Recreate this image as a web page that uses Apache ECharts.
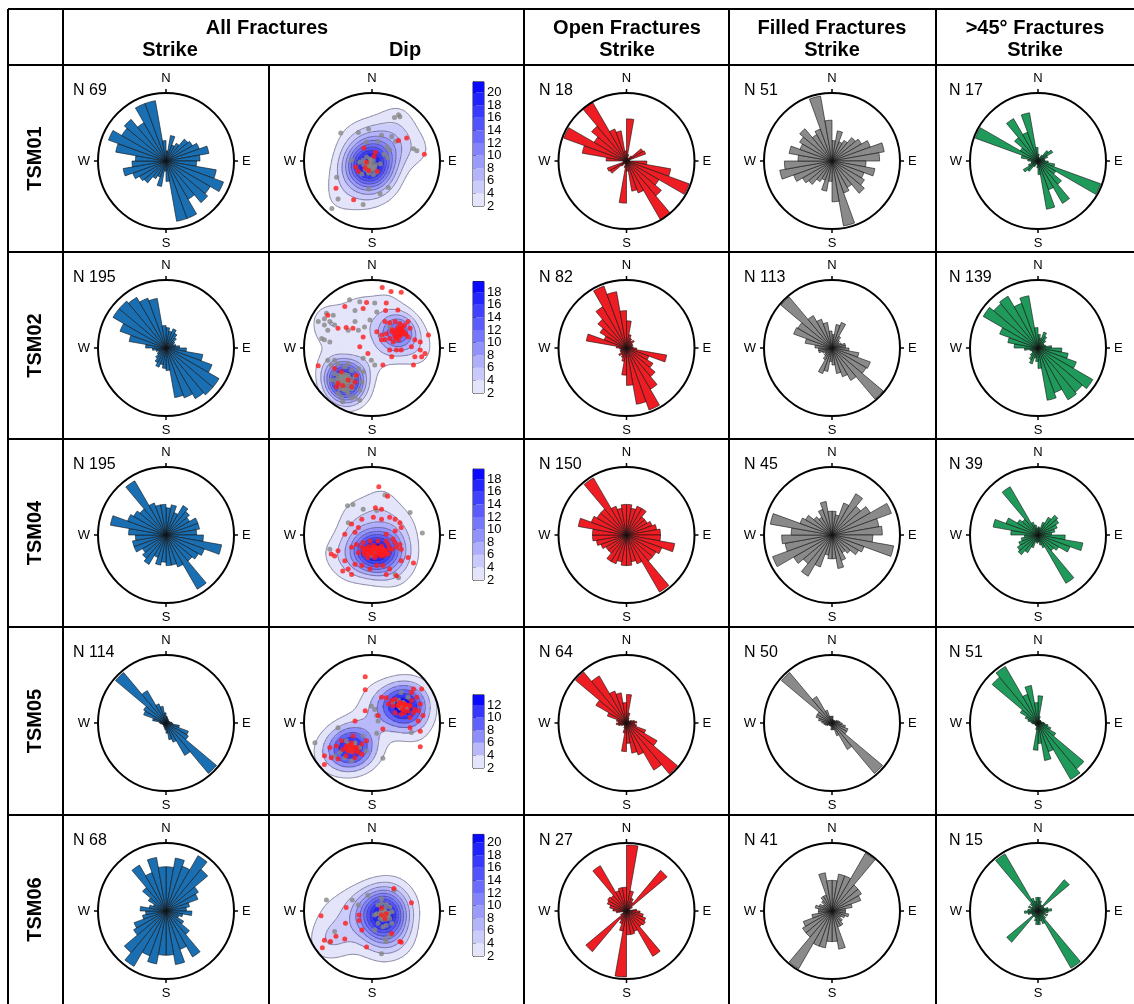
<!DOCTYPE html>
<html>
<head>
<meta charset="utf-8">
<script src="https://cdn.jsdelivr.net/npm/echarts@6/dist/echarts.min.js"></script>
<style>
html, body { margin: 0; background: #fff; }
#chart { width: 1134px; height: 1004px; }
</style>
</head>
<body>
<div id="chart"></div>
<script>
var samples = ['TSM01', 'TSM02', 'TSM04', 'TSM05', 'TSM06'];

var allN = [69, 195, 195, 114, 68];
var openN = [18, 82, 150, 64, 27];
var filledN = [51, 113, 45, 50, 41];
var steepN = [17, 139, 39, 51, 15];

// strike roses: 10 degree bins 0-10 ... 170-180 (mirrored for 180-360),
// bar length as a fraction of the circle radius
var allStrike = [
    [.15, .38, .25, .3, .42, .45, .52, .64, .5, .45, .75, .9, .75, .8, .65, .9, .9, .3],
    [.3, .25, .3, .25, .2, .15, .12, .15, .2, .3, .55, .72, .9, .9, .86, .78, .74, .33],
    [.4, .45, .35, .5, .45, .4, .5, .5, .45, .55, .83, .6, .55, .5, .92, .5, .45, .45],
    [.1, .08, .06, .06, .05, .05, .05, .06, .08, .1, .2, .35, .38, .97, .55, .3, .25, .15],
    [.65, .79, .7, .94, .8, .55, .5, .35, .3, .38, .25, .2, .3, .45, .78, .6, .8, .65]
];
var openStrike = [
    [.62, .1, .05, .05, .1, .28, .3, .05, .05, .3, .66, .98, .55, .67, 1.0, .5, .45, .15],
    [.4, .2, .15, .12, .15, .1, .1, .08, .1, .15, .6, .35, .45, .55, .7, .97, .84, .55],
    [.45, .4, .45, .45, .35, .35, .4, .45, .5, .5, .72, .55, .5, .5, .97, .45, .4, .45],
    [.42, .15, .08, .05, .05, .05, .08, .12, .15, .12, .15, .3, .52, .98, .8, .5, .45, .3],
    [.97, .3, .2, .15, .78, .1, .05, .05, .15, .2, .25, .3, .32, .3, .77, .32, .35, .35]
];
var filledStrike = [
    [.3, .45, .3, .35, .45, .5, .6, .78, .7, .5, .64, .5, .55, .62, .45, .5, .97, .6],
    [.2, .35, .4, .2, .15, .12, .15, .2, .2, .25, .4, .6, .58, .98, .55, .45, .38, .25],
    [.35, .3, .5, .7, .55, .65, .93, .7, .74, .6, .92, .5, .45, .35, .3, .4, .5, .35],
    [.1, .05, .05, .05, .05, .05, .08, .1, .12, .15, .2, .25, .25, .97, .45, .2, .1, .1],
    [.45, .55, .55, .98, .5, .5, .45, .3, .2, .2, .25, .2, .15, .2, .25, .25, .57, .45]
];
var steepStrike = [
    [.1, .05, .05, .1, .2, .25, .15, .1, .1, .15, .25, .98, .3, .45, .72, .45, .72, .2],
    [.2, .15, .25, .2, .15, .1, .1, .12, .2, .35, .45, .6, .93, .85, .88, .7, .78, .3],
    [.12, .1, .2, .3, .38, .35, .3, .25, .2, .4, .67, .5, .35, .3, .82, .2, .15, .1],
    [.4, .1, .05, .05, .05, .05, .05, .05, .08, .1, .15, .2, .3, .88, .96, .45, .56, .3],
    [.2, .15, .1, .1, .6, .1, .1, .15, .2, .15, .1, .15, .1, .15, .97, .2, .15, .2]
];

// dip: top of the density colour bar
var densityMax = [21.7, 19.7, 19.6, 13.6, 21.3];

// poles on the stereonet, x east / y north, unit circle
var filledPoles = [
    [[.39, .68], [.33, .64], [.41, .65], [-.46, .41], [-.2, .42], [-.05, .47], [.14, .38], [.29, .36], [.35, .29], [.61, .18],
     [.66, .15], [-.08, .28], [.09, .29], [.22, .21], [.26, .16], [.18, .1], [.23, .05], [-.08, .06], [-.03, .03], [.02, .01],
     [-.05, -.04], [-.01, -.07], [.04, -.09], [-.1, -.12], [-.03, -.14], [.07, -.16], [.02, -.2], [-.05, -.18], [-.18, -.02],
     [-.13, .01], [-.3, .01], [-.15, -.19], [.12, -.04], [-.52, -.24], [-.5, -.56], [-.59, -.7], [-.13, -.64], [-.05, -.41],
     [.12, -.48], [.24, -.39], [-.03, -.09], [-.08, -.08], [-.01, -.02], [.03, -.12], [-.04, -.04], [-.08, -.1], [0, -.12],
     [-.12, -.06], [-.02, .02], [.05, -.05], [-.06, -.15], [-.1, -.02], [.02, -.08], [-.03, -.1]],
    [[-.7, .43], [-.62, .39], [-.57, .48], [-.7, .34], [-.65, .26], [-.79, .39], [-.55, .34], [-.67, .51], [-.74, .14], [-.7, .12],
     [-.62, .09], [-.33, .71], [-.18, .68], [.04, .66], [.07, .53], [-.25, .55], [-.35, .26], [-.25, .39], [-.2, .26], [-.11, .31],
     [-.03, .41], [.26, .31], [.39, .31], [-.65, -.18], [-.6, -.25], [-.5, -.23], [-.4, -.28], [-.3, -.33], [-.55, -.38],
     [-.45, -.4], [-.35, -.4], [-.25, -.42], [-.6, -.47], [-.47, -.47], [-.38, -.5], [-.28, -.55], [-.4, -.62], [-.5, -.67],
     [-.35, -.67], [-.25, -.72], [-.18, -.62], [-.15, -.5], [-.13, -.35], [-.2, -.3], [-.35, -.23], [-.55, -.18], [-.45, -.72],
     [-.3, -.74], [-.18, -.77], [-.43, -.79], [.04, -.25], [-.01, -.18], [-.13, -.15], [-.42, -.43], [-.38, -.45], [-.45, -.5],
     [-.4, -.52], [-.43, -.45], [-.45, -.42], [-.4, -.44], [-.36, -.46], [-.48, -.48], [-.42, -.5], [-.38, -.53], [-.33, -.5],
     [-.46, -.55], [-.41, -.57], [-.35, -.58], [-.5, -.44], [-.44, -.38], [-.39, -.39], [-.34, -.43], [-.3, -.46], [-.52, -.52],
     [-.47, -.6], [-.4, -.48], [-.43, -.53], [-.37, -.5], [-.32, -.55], [-.28, -.5], [-.45, -.46], [-.49, -.4], [-.42, -.61],
     [-.36, -.62], [-.3, -.6], [-.54, -.47], [-.38, -.41], [-.44, -.43]],
    [[-.36, .43], [-.28, .45], [-.13, .38], [.07, .36], [.56, .33], [.74, .03], [.19, .59], [-.35, .18], [-.62, -.21], [.34, -.58],
     [.39, -.63], [0, -.22], [.1, -.2], [.05, -.25], [.15, -.22], [-.05, -.28], [0, -.3]],
    [[-.5, -.07], [-.84, -.29], [.16, -.52], [.07, -.15], [.07, .11], [.04, .2], [-.01, .25], [.09, .03], [.43, .45], [.53, .38],
     [.39, .33], [.31, .3], [.41, .23], [.51, .22], [.43, .28], [.58, -.14], [-.38, -.26], [-.3, -.34], [-.25, -.29], [-.18, -.36],
     [-.35, -.31], [-.55, -.48], [-.47, -.43], [-.4, -.51], [-.3, -.56], [-.13, -.19], [-.08, -.41], [-.32, -.36], [-.28, -.38],
     [-.25, -.34], [-.35, -.4], [-.3, -.42], [-.27, -.31], [.44, .26], [.48, .24], [.4, .28], [.52, .22], [.46, .3], [.42, .22]],
    [[.09, .09], [.14, .11], [.21, .1], [.26, .06], [.29, -.01], [.24, -.06], [.16, -.09], [.12, -.11], [.07, -.04], [.14, .01],
     [.19, .04], [.26, -.11], [.09, -.18], [.16, -.23], [.21, -.21], [.29, -.18], [.19, -.41], [.21, -.45], [.26, -.36], [.14, .18],
     [.04, -.06], [-.67, .16], [-.29, .16], [-.2, .09], [-.06, .23], [.33, .31], [-.55, -.3], [-.62, -.46], [.14, -.63], [.04, -.28],
     [.17, -.04], [.2, -.02], [.15, -.08], [.22, -.07], [.18, 0], [.13, -.02], [.24, -.03], [.19, -.1], [.16, -.13], [.21, -.12],
     [.12, -.05], [.18, -.06]]
];
var openPoles = [
    [[-.12, .19], [.05, .13], [.03, .07], [-.08, -.02], [-.24, -.09], [-.1, -.1], [-.2, -.15], [-.05, -.14], [.08, -.15],
     [.39, .3], [.51, .34], [.77, .1], [-.53, -.4], [-.27, -.57]],
    [[.15, .89], [.28, .83], [.43, .82], [-.08, .67], [.21, .66], [.2, .55], [.38, .56], [-.65, .48], [-.4, .61], [-.13, .58],
     [.19, .39], [.26, .37], [.34, .39], [.41, .36], [.48, .34], [.53, .39], [.56, .29], [.43, .29], [.36, .26], [.29, .24],
     [.21, .21], [.14, .19], [.34, .16], [.41, .19], [.48, .21], [.26, .14], [.19, .12], [.53, .16], [.39, .12], [.31, .09],
     [.63, .12], [.71, .09], [.58, .02], [.71, -.03], [.78, -.08], [.63, -.13], [.73, -.13], [.83, .19], [.07, .24], [.14, .12],
     [.26, -.03], [.29, -.13], [.36, -.03], [.43, -.03], [.16, -.25], [.61, -.25], [-.5, .29], [-.38, .3], [-.28, .29],
     [-.13, .16], [-.18, .02], [-.06, -.08], [-.55, -.3], [-.45, -.35], [-.5, -.52], [-.43, -.55], [-.3, -.57], [-.25, -.5],
     [-.23, -.4], [-.35, -.47], [-.52, -.57], [-.79, -.26], [.36, .24], [.4, .22], [.44, .26], [.33, .2], [.38, .3], [.42, .18],
     [.47, .24], [.3, .27], [.35, .14], [.45, .31], [.39, .2], [.41, .27], [.5, .2], [.37, .17], [.43, .23]],
    [[.1, .71], [.23, .57], [.05, .4], [.14, .38], [-.15, .23], [.02, .26], [.14, .23], [.26, .26], [.34, .23], [.41, .18],
     [.43, .11], [.34, .06], [.21, .01], [-.25, .04], [-.4, .01], [-.3, .16], [-.2, .11], [-.15, -.18], [-.06, -.21], [.04, -.18],
     [.14, -.16], [.24, -.14], [.34, -.11], [-.11, -.28], [-.01, -.26], [.09, -.26], [.19, -.23], [.29, -.21], [.36, -.18],
     [-.2, -.26], [-.06, -.33], [.04, -.33], [.14, -.31], [.24, -.28], [-.3, -.18], [-.23, -.14], [-.13, -.11], [-.03, -.09],
     [.09, -.09], [.21, -.09], [.31, -.06], [.41, -.14], [.43, -.21], [-.5, -.23], [-.55, -.31], [-.6, -.28], [-.4, -.38],
     [-.35, -.5], [-.43, -.53], [-.25, -.43], [-.15, -.45], [-.3, -.58], [-.03, -.5], [.07, -.45], [.16, -.45], [.26, -.5],
     [.21, -.58], [.36, -.6], [.61, -.41], [.53, -.33], [.43, -.38], [-.1, -.2], [-.05, -.17], [0, -.2], [.05, -.22], [.1, -.24],
     [.15, -.26], [.2, -.24], [.25, -.2], [-.08, -.25], [-.02, -.27], [.03, -.29], [.08, -.3], [.12, -.28], [.18, -.3],
     [-.12, -.23], [.06, -.18], [.11, -.19], [.16, -.2], [0, -.24], [.09, -.26], [-.04, -.22], [.14, -.23], [.21, -.27],
     [.02, -.15], [-.07, -.3]],
    [[-.1, .68], [-.1, .49], [.14, .38], [.21, .37], [.29, .33], [.34, .35], [.41, .3], [.48, .28], [.56, .25], [.63, .2],
     [.68, .18], [.61, .15], [.53, .18], [.46, .2], [.39, .25], [.31, .25], [.24, .28], [.58, .33], [.66, .38], [.71, .28],
     [.75, .11], [.68, .03], [.56, .08], [.48, .15], [.58, .45], [.73, .5], [.61, .5], [.34, .15], [.43, .13], [.56, -.07],
     [.71, -.12], [.71, -.35], [-.1, .18], [.09, .11], [.16, -.09], [-.25, .03], [-.45, -.26], [-.38, -.34], [-.3, -.29],
     [-.23, -.36], [-.15, -.31], [-.35, -.41], [-.28, -.43], [-.2, -.43], [-.43, -.39], [-.52, -.34], [-.62, -.36], [-.7, -.48],
     [-.6, -.51], [-.5, -.53], [-.38, -.48], [-.25, -.51], [-.15, -.46], [-.7, -.61], [-.28, -.19], [-.08, -.26], [-.22, -.4],
     [-.38, -.37], [-.29, -.35], [-.31, -.39], [-.26, -.36], [-.33, -.33], [.5, .27], [.45, .2], [.55, .26], [.38, .26],
     [.47, .25], [.43, .29]],
    [[.14, .04], [.21, -.04], [.19, -.11], [.29, -.33], [.14, -.06], [.32, .33], [.58, .12], [-.38, .05], [-.39, -.18],
     [-.75, -.07], [-.19, -.06], [-.19, -.14], [-.15, -.28], [-.4, -.41], [-.08, -.53], [.41, -.45], [.43, -.46], [-.7, -.43],
     [-.53, -.37], [-.61, -.45], [-.73, -.54]]
];

var compass = { 0: 'N', 90: 'E', 180: 'S', 270: 'W' };
var FONT = 'Liberation Sans';
var colX = [8, 63, 269, 524, 729, 936];
var rowY = [9, 65, 252, 439, 627, 815, 1004];
var R = 68;
var GRID_N = 90;
var kernelWidth = [0.22, 0.17, 0.2, 0.21, 0.22];

var roseCols = [
    { x: 166, vals: allStrike, n: allN, color: '#1a6fb3', labelX: 73 },
    { x: 626.5, vals: openStrike, n: openN, color: '#ee1d23', labelX: 539 },
    { x: 832, vals: filledStrike, n: filledN, color: '#8a8a8a', labelX: 744 },
    { x: 1038, vals: steepStrike, n: steepN, color: '#1f9a5b', labelX: 949 }
];

var option = {
    animation: false,
    polar: [], angleAxis: [], radiusAxis: [],
    grid: [], xAxis: [], yAxis: [],
    series: [], graphic: []
};

function addFrame(cx, cy) {
    var idx = option.polar.length;
    option.polar.push({ center: [cx, cy], radius: R });
    option.angleAxis.push({
        polarIndex: idx, type: 'value', min: 0, max: 360, interval: 90,
        startAngle: 90, clockwise: true, z: 10,
        axisLine: { lineStyle: { color: '#000', width: 2 } },
        axisTick: { length: 4, lineStyle: { color: '#000', width: 1.5 } },
        axisLabel: {
            margin: 8, color: '#000', fontSize: 13, fontFamily: FONT,
            formatter: function (v) { return compass[v] || ''; }
        },
        splitLine: { show: false }
    });
    option.radiusAxis.push({ polarIndex: idx, type: 'value', min: 0, max: 1, show: false });
    return idx;
}

function addRose(cx, cy, vals, color) {
    var p = addFrame(cx, cy);
    var data = [];
    for (var k = 0; k < 36; k++) data.push([vals[k % 18], k * 10]);
    option.series.push({
        type: 'custom', coordinateSystem: 'polar', polarIndex: p, z: 3,
        data: data, encode: { radius: 0, angle: 1 },
        renderItem: function (params, api) {
            var v = api.value(0), a0 = api.value(1);
            var pts = [api.coord([0, a0 + 5])];
            for (var a = a0; a <= a0 + 10.001; a += 2.5) pts.push(api.coord([v, a]));
            return { type: 'polygon', shape: { points: pts }, style: { fill: color, stroke: '#111', lineWidth: 0.6 } };
        }
    });
}

function bandColor(k, K) {
    var t = K > 1 ? k / (K - 1) : 1;
    var c = Math.round(228 - 218 * t);
    return 'rgb(' + c + ',' + c + ',' + Math.round(250 + 5 * t) + ')';
}

// kernel density of the poles on a regular grid, scaled to the colour bar top
function density(pts, dmax, h) {
    var n = GRID_N, vals = new Float64Array((n + 1) * (n + 1)), max = 0;
    for (var j = 0; j <= n; j++) {
        for (var i = 0; i <= n; i++) {
            var x = -1 + 2 * i / n, y = -1 + 2 * j / n, s = 0;
            for (var q = 0; q < pts.length; q++) {
                var dx = x - pts[q][0], dy = y - pts[q][1];
                s += Math.exp(-(dx * dx + dy * dy) / (2 * h * h));
            }
            vals[j * (n + 1) + i] = s;
            if (x * x + y * y <= 1 && s > max) max = s;
        }
    }
    for (var m = 0; m < vals.length; m++) vals[m] *= dmax / max;
    return vals;
}

function contourSegments(v, L) {
    var n = GRID_N, segs = [];
    for (var j = 0; j < n; j++) {
        for (var i = 0; i < n; i++) {
            var x0 = -1 + 2 * i / n, x1 = -1 + 2 * (i + 1) / n, y0 = -1 + 2 * j / n, y1 = -1 + 2 * (j + 1) / n;
            var mx = (x0 + x1) / 2, my = (y0 + y1) / 2;
            if (mx * mx + my * my > 1) continue;
            var a = v[j * (n + 1) + i], b = v[j * (n + 1) + i + 1],
                c = v[(j + 1) * (n + 1) + i + 1], d = v[(j + 1) * (n + 1) + i];
            var pts = [];
            if ((a >= L) !== (b >= L)) pts.push([x0 + (L - a) / (b - a) * (x1 - x0), y0]);
            if ((b >= L) !== (c >= L)) pts.push([x1, y0 + (L - b) / (c - b) * (y1 - y0)]);
            if ((d >= L) !== (c >= L)) pts.push([x0 + (L - d) / (c - d) * (x1 - x0), y1]);
            if ((a >= L) !== (d >= L)) pts.push([x0, y0 + (L - a) / (d - a) * (y1 - y0)]);
            if (pts.length >= 2) segs.push([pts[0][0], pts[0][1], pts[1][0], pts[1][1]]);
            if (pts.length === 4) segs.push([pts[2][0], pts[2][1], pts[3][0], pts[3][1]]);
        }
    }
    return segs;
}

function addStereo(s) {
    var cx = 372, cy = rowY[s + 1] + 96, dmax = densityMax[s];
    var K = Math.ceil((dmax - 2) / 2);
    addFrame(cx, cy);

    var g = option.grid.length, xi = option.xAxis.length, yi = option.yAxis.length;
    option.grid.push({ left: cx - R, top: cy - R, width: 2 * R, height: 2 * R, containLabel: false, outerBoundsMode: 'none' });
    option.xAxis.push({ gridIndex: g, type: 'value', min: -1, max: 1, show: false });
    option.yAxis.push({ gridIndex: g, type: 'value', min: -1, max: 1, show: false });

    var pts = filledPoles[s].concat(openPoles[s]);
    var v = density(pts, dmax, kernelWidth[s]), n = GRID_N;
    var cells = [];
    for (var j = 0; j < n; j++) {
        for (var i = 0; i < n; i++) {
            var x0 = -1 + 2 * i / n, x1 = -1 + 2 * (i + 1) / n, y0 = -1 + 2 * j / n, y1 = -1 + 2 * (j + 1) / n;
            var mx = (x0 + x1) / 2, my = (y0 + y1) / 2;
            if (mx * mx + my * my > 1) continue;
            var val = (v[j * (n + 1) + i] + v[j * (n + 1) + i + 1] + v[(j + 1) * (n + 1) + i] + v[(j + 1) * (n + 1) + i + 1]) / 4;
            if (val < 2) continue;
            cells.push([x0, y0, x1, y1, Math.min(K - 1, Math.floor((val - 2) / 2))]);
        }
    }
    option.series.push({
        type: 'custom', xAxisIndex: xi, yAxisIndex: yi, z: 1, progressive: 0,
        data: cells, encode: { x: [0, 2], y: [1, 3] },
        renderItem: function (params, api) {
            var p0 = api.coord([api.value(0), api.value(3)]);
            var p1 = api.coord([api.value(2), api.value(1)]);
            return {
                type: 'rect',
                shape: { x: p0[0] - 0.3, y: p0[1] - 0.3, width: p1[0] - p0[0] + 0.6, height: p1[1] - p0[1] + 0.6 },
                style: { fill: bandColor(api.value(4), K) }
            };
        }
    });

    var segs = [];
    for (var L = 2; L < dmax; L += 2) segs = segs.concat(contourSegments(v, L));
    option.series.push({
        type: 'custom', xAxisIndex: xi, yAxisIndex: yi, z: 2, progressive: 0,
        data: segs, encode: { x: [0, 2], y: [1, 3] },
        renderItem: function (params, api) {
            var p = api.coord([api.value(0), api.value(1)]);
            var q = api.coord([api.value(2), api.value(3)]);
            return {
                type: 'line', shape: { x1: p[0], y1: p[1], x2: q[0], y2: q[1] },
                style: { stroke: 'rgba(45,45,75,0.7)', lineWidth: 0.7 }
            };
        }
    });

    option.series.push({
        type: 'scatter', xAxisIndex: xi, yAxisIndex: yi, z: 3, data: filledPoles[s],
        symbolSize: 5, itemStyle: { color: '#878787' }
    });
    option.series.push({
        type: 'scatter', xAxisIndex: xi, yAxisIndex: yi, z: 4, data: openPoles[s],
        symbolSize: 5, itemStyle: { color: '#ff1c1c' }
    });

    // colour bar: one axis for the 4..20 labels, a second one only for the "2" at the bottom
    var bottom = rowY[s + 1] + 141, h = (dmax - 2) * 6.3;
    var cb = option.grid.length, cbx = option.xAxis.length, cby = option.yAxis.length;
    option.grid.push({
        left: 473, top: bottom - h, width: 11, height: h, containLabel: false, outerBoundsMode: 'none',
        show: true, borderColor: '#222', borderWidth: 1, backgroundColor: 'transparent'
    });
    option.xAxis.push({ gridIndex: cb, type: 'value', min: 0, max: 1, show: false });
    var labelStyle = { margin: 3, fontSize: 13, color: '#000', fontFamily: FONT };
    option.yAxis.push({
        gridIndex: cb, type: 'value', position: 'right', min: 2, max: dmax, interval: 2,
        axisLine: { show: true, lineStyle: { color: '#000', width: 1 } },
        axisTick: { show: true, length: 3, lineStyle: { color: '#000' } },
        axisLabel: Object.assign({
            showMinLabel: false, showMaxLabel: false,
            formatter: function (val) { return Math.abs(val % 2) < 1e-6 ? String(val) : ''; }
        }, labelStyle),
        splitLine: { show: false }
    });
    option.yAxis.push({
        gridIndex: cb, type: 'value', position: 'right', min: 2, max: dmax, interval: dmax - 2,
        axisLine: { show: false }, axisTick: { show: false }, splitLine: { show: false },
        axisLabel: Object.assign({
            showMinLabel: true, showMaxLabel: false,
            formatter: function (val) { return val === 2 ? '2' : ''; }
        }, labelStyle)
    });
    var bands = [];
    for (var k = 0; k < K; k++) bands.push([0, 2 + 2 * k, 1, Math.min(4 + 2 * k, dmax), k]);
    option.series.push({
        type: 'custom', xAxisIndex: cbx, yAxisIndex: cby, z: 1,
        data: bands, encode: { x: [0, 2], y: [1, 3] },
        renderItem: function (params, api) {
            var p0 = api.coord([api.value(0), api.value(3)]);
            var p1 = api.coord([api.value(2), api.value(1)]);
            return {
                type: 'rect', shape: { x: p0[0], y: p0[1], width: p1[0] - p0[0], height: p1[1] - p0[1] },
                style: { fill: bandColor(api.value(4), K) }
            };
        }
    });
}

function text(x, y, str, font, align, rot) {
    return {
        type: 'text', x: x, y: y, rotation: rot || 0, z: 20,
        style: { text: str, font: font, fill: '#000', align: align || 'center', verticalAlign: 'middle' }
    };
}
function line(x1, y1, x2, y2) {
    return { type: 'line', z: 20, shape: { x1: x1, y1: y1, x2: x2, y2: y2 }, style: { stroke: '#000', lineWidth: 2 } };
}

samples.forEach(function (name, s) {
    var top = rowY[s + 1];
    roseCols.forEach(function (c) {
        addRose(c.x, top + 96, c.vals[s], c.color);
        option.graphic.push(text(c.labelX, top + 26, 'N ' + c.n[s], '16px "' + FONT + '"', 'left'));
    });
    addStereo(s);
    option.graphic.push(text(35, (top + rowY[s + 2]) / 2, name, 'bold 20px "' + FONT + '"', 'center', Math.PI / 2));
});

var bold = 'bold 20px "' + FONT + '"';
option.graphic.push(text(267, 28, 'All Fractures', bold));
option.graphic.push(text(170, 50, 'Strike', bold));
option.graphic.push(text(405, 50, 'Dip', bold));
option.graphic.push(text(627, 28, 'Open Fractures', bold));
option.graphic.push(text(627, 50, 'Strike', bold));
option.graphic.push(text(832, 28, 'Filled Fractures', bold));
option.graphic.push(text(832, 50, 'Strike', bold));
option.graphic.push(text(1035, 28, '>45° Fractures', bold));
option.graphic.push(text(1035, 50, 'Strike', bold));

for (var r = 0; r < 6; r++) option.graphic.push(line(colX[0], rowY[r], 1134, rowY[r]));
[8, 63, 524, 729, 936].forEach(function (x) { option.graphic.push(line(x, rowY[0], x, 1004)); });
option.graphic.push(line(269, rowY[1], 269, 1004));

var chart = echarts.init(document.getElementById('chart'));
chart.setOption(option);
</script>
</body>
</html>
